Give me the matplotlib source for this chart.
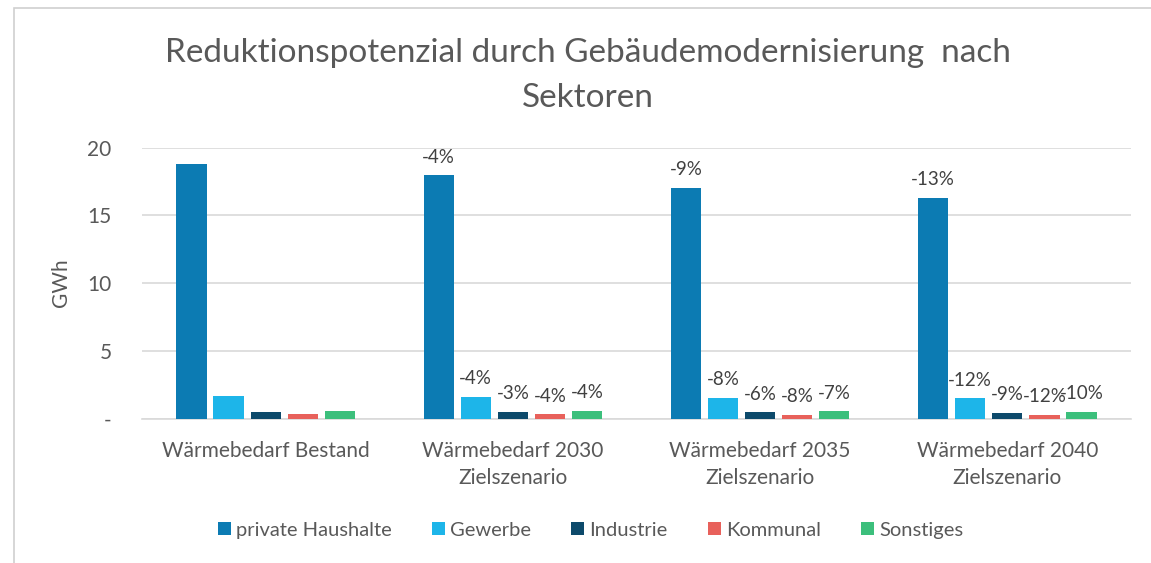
import numpy as np
import matplotlib.pyplot as plt
from matplotlib.patches import Rectangle

# data
categories = ['Wärmebedarf Bestand', 'Wärmebedarf 2030\nZielszenario',
              'Wärmebedarf 2035\nZielszenario', 'Wärmebedarf 2040\nZielszenario']
sectors = ['private Haushalte', 'Gewerbe', 'Industrie', 'Kommunal', 'Sonstiges']

private = [18.75, 17.95, 17.05, 16.3]
gewerbe = [1.70, 1.63, 1.56, 1.50]
industrie = [0.50, 0.48, 0.47, 0.45]
kommunal = [0.32, 0.31, 0.29, 0.28]
sonstiges = [0.60, 0.57, 0.55, 0.53]

pct_private = ['', '-4%', '-9%', '-13%']
pct_gewerbe = ['', '-4%', '-8%', '-12%']
pct_industrie = ['', '-3%', '-6%', '-9%']
pct_kommunal = ['', '-4%', '-8%', '-12%']
pct_sonstiges = ['', '-4%', '-7%', '-10%']

yticks = [0, 5, 10, 15, 20]
ytick_labels = ['-', '5', '10', '15', '20']

series = [private, gewerbe, industrie, kommunal, sonstiges]
pcts = [pct_private, pct_gewerbe, pct_industrie, pct_kommunal, pct_sonstiges]
colors = ['#0c7bb3', '#1db5e9', '#0d4a6b', '#e8615b', '#3cbf7c']

plt.rcParams['font.family'] = ['Lato', 'DejaVu Sans']
grey = '#595959'

fig = plt.figure(figsize=(11.51, 5.63), dpi=100)
ax = fig.add_axes([0.1234, 0.2563, 0.8592, 0.4817])

# light frame around the chart area, as in the source screenshot
fig.patches.append(Rectangle((14 / 1151, -0.05), 1.2, 1 - 8 / 563 + 0.05,
                             transform=fig.transFigure, fill=False,
                             edgecolor='#d0d0d0', linewidth=1.2))

x = np.arange(len(categories))
step = 0.15
width = 0.122
for i, (vals, lab, col) in enumerate(zip(series, sectors, colors)):
    pos = x + (i - 2) * step
    bars = ax.bar(pos, vals, width, color=col, label=lab, zorder=3)
    for b, txt in zip(bars, pcts[i]):
        if txt:
            ax.annotate(txt, (b.get_x() + b.get_width() / 2, b.get_height()),
                        xytext=(0, 7), textcoords='offset points',
                        ha='center', va='bottom', fontsize=13.5, color='#404040')

ax.set_xlim(-0.5, len(categories) - 0.5)
ax.set_ylim(0, 20)
ax.set_yticks(yticks)
ax.set_yticklabels(ytick_labels)
ax.set_xticks(x)
ax.set_xticklabels(categories, fontsize=15, color=grey, linespacing=1.45)
ax.tick_params(axis='y', labelsize=15, labelcolor=grey, length=0, pad=22)
ax.tick_params(axis='x', length=0, pad=16)
ax.yaxis.grid(True, color='#d9d9d9', linewidth=1.2, zorder=0)
for s in ['top', 'right', 'left']:
    ax.spines[s].set_visible(False)
ax.spines['bottom'].set_color('#d9d9d9')
ax.spines['bottom'].set_linewidth(1.2)

ax.set_ylabel('GWh', fontsize=15, color=grey, labelpad=12)

fig.text(0.511, 0.905, 'Reduktionspotenzial durch Gebäudemodernisierung  nach',
         ha='center', va='center', fontsize=24, color=grey)
fig.text(0.511, 0.826, 'Sektoren', ha='center', va='center', fontsize=24, color=grey)

fig.legend(loc='center', bbox_to_anchor=(0.513, 0.058), ncol=5, frameon=False,
           fontsize=14.5, handlelength=0.65, handleheight=0.65, handletextpad=0.25,
           columnspacing=2.0, labelcolor=grey)

fig.savefig('out.png', dpi=100, facecolor='white')
